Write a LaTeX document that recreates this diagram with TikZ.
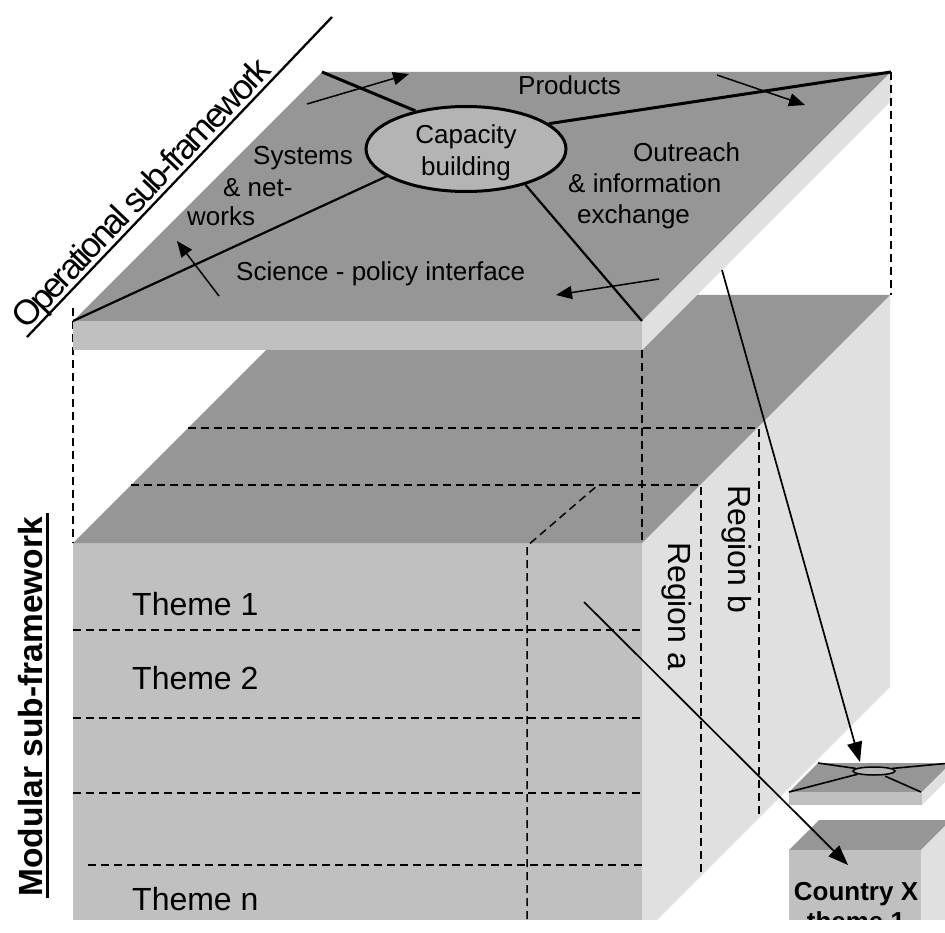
\documentclass[tikz,border=0pt]{standalone}
\usepackage{fontspec}
\setmainfont{Liberation Sans}
\usetikzlibrary{arrows.meta,shapes.geometric,calc}
\definecolor{topgray}{RGB}{150,150,150}
\definecolor{frontgray}{RGB}{192,192,192}
\definecolor{sidegray}{RGB}{224,224,224}
\definecolor{ellgray}{RGB}{180,180,180}
\tikzset{
  topface/.style={fill=topgray},
  frontface/.style={fill=frontgray},
  sideface/.style={fill=sidegray},
  cut/.style={line width=1.5pt, dash pattern=on 8pt off 5pt},
  platetext/.style={inner sep=0pt, anchor=base west, font=\fontsize{26}{30}\selectfont},
  bigtext/.style={inner sep=0pt, anchor=base west, font=\fontsize{32}{36}\selectfont},
  flowarrow/.style={line width=1.5pt, -{Triangle[length=16pt,width=13pt]}},
  longarrow/.style={line width=1.7pt, -{Triangle[length=20pt,width=15pt]}},
}
\begin{document}
\begin{tikzpicture}[x=1pt,y=-1pt]
\useasboundingbox (0,0) rectangle (945,933);
\begin{scope}
\clip (0,0) rectangle (945,919);

% ---------- modular block ----------
\fill[frontface] (73,543) rectangle (642,925);
\fill[sideface] (642,543) -- (890,295) -- (890,687) -- (656,921) -- (642,921) -- cycle;
\fill[topface] (73,543) -- (642,543) -- (890,295) -- (321,295) -- cycle;

% layer and region cuts
\draw[cut] (188,428) -- (759,428) -- (759,818);
\draw[cut] (131,485) -- (701,485) -- (701,876);
\draw[cut] (527,919) -- (527,546) -- (598,485);
\draw[cut] (73,630) -- (642,630);
\draw[cut] (73,718) -- (642,718);
\draw[cut] (73,793) -- (642,793);
\draw[cut] (88,865) -- (642,865);
\draw[cut] (73,308) -- (73,543);
\draw[cut] (642,350) -- (642,543);

\node[bigtext] (th1) at (132,615) {Theme 1};
\node[bigtext] (th2) at (132,689) {Theme 2};
\node[bigtext] (thn) at (132,910) {Theme n};
\node[bigtext, rotate=-90] (rga) at (668,542) {Region a};
\node[bigtext, rotate=-90] (rgb) at (728,485) {Region b};

% ---------- operational plate ----------
\coordinate (pBL) at (73,321);
\coordinate (pBR) at (642,321);
\coordinate (pTR) at (891,72);
\coordinate (pTL) at (322,72);
\fill[topface] (pBL) -- (pBR) -- (pTR) -- (pTL) -- cycle;
\fill[frontface] (73,321) rectangle (642,350);
\fill[sideface] (pBR) -- (pTR) -- (891,101) -- (642,350) -- cycle;
\draw[cut] (891,72) -- (891,295);

\node[ellipse, draw, line width=3pt, fill=ellgray, minimum width=200pt,
      minimum height=85pt, inner sep=0pt] (ell) at (466,149) {};
\node[inner sep=0pt, align=center, font=\fontsize{26}{32}\selectfont] (capt) at (466,153) {Capacity\\building};
\draw[line width=3pt] (pTL) -- (ell.143);
\draw[line width=3pt] (ell.17) -- (pTR);
\draw[line width=2.2pt] (ell.199) -- (pBL);
\draw[line width=2.2pt] (ell.329) -- (pBR);

\node[platetext] (prod) at (518,95) {Products};
\node[platetext] (sys1) at (253,165) {Systems};
\node[platetext] (sys2) at (223,197) {\& net-};
\node[platetext] (sys3) at (187,226) {works};
\node[platetext] (out1) at (633,162) {Outreach};
\node[platetext] (out2) at (568,193) {\& information};
\node[platetext] (out3) at (577,224) {exchange};
\node[platetext] (sci) at (236,281) {Science - policy interface};

\coordinate (a1s) at (307,104); \coordinate (a1e) at (409,74);
\coordinate (a2s) at (717,75);  \coordinate (a2e) at (805,105);
\coordinate (a3s) at (659,279); \coordinate (a3e) at (556,295);
\coordinate (a4s) at (219,296); \coordinate (a4e) at (177,241);
\draw[flowarrow] (a1s) -- (a1e);
\draw[flowarrow] (a2s) -- (a2e);
\draw[flowarrow] (a3s) -- (a3e);
\draw[flowarrow] (a4s) -- (a4e);

% ---------- small operational plate ----------
\coordinate (sBL) at (789,792);
\coordinate (sBR) at (922,792);
\coordinate (sTR) at (951,763);
\coordinate (sTL) at (818,763);
\fill[topface] (sBL) -- (sBR) -- (sTR) -- (sTL) -- cycle;
\fill[frontface] (789,792) rectangle (922,805);
\fill[sideface] (sBR) -- (sTR) -- (951,776) -- (922,805) -- cycle;
\node[ellipse, draw, line width=1.5pt, fill=ellgray, minimum width=42pt,
      minimum height=8pt, inner sep=0pt] (sel) at (874,771) {};
\draw[line width=1.6pt] (sTL) -- (sel.172);
\draw[line width=1.6pt] (sel.8) -- (sTR);
\draw[line width=1.6pt] (sel.191) -- (sBL);
\draw[line width=1.6pt, shorten <=2pt] (sel.335) -- (921,792);

% ---------- country box ----------
\fill[topface] (789,850) -- (921,850) -- (951,820) -- (819,820) -- cycle;
\fill[frontface] (789,850) rectangle (921,930);
\fill[sideface] (921,850) -- (951,820) -- (951,930) -- (921,930) -- cycle;
\node[inner sep=0pt, anchor=base, font=\bfseries\fontsize{26}{30}\selectfont] (cty1) at (856,900) {Country X};
\node[inner sep=0pt, anchor=base, font=\bfseries\fontsize{26}{30}\selectfont] (cty2) at (856,930) {theme 1};

% ---------- links to the country level ----------
\coordinate (l1s) at (722,270); \coordinate (l1e) at (860,762);
\coordinate (l2s) at (584,602); \coordinate (l2e) at (848,865);
\draw[longarrow] (l1s) -- (l1e);
\draw[longarrow] (l2s) -- (l2e);

% ---------- side titles ----------
\node[inner sep=0pt, anchor=base west, rotate=46.4,
      font=\fontsize{35}{38}\selectfont\addfontfeatures{LetterSpace=-8}] (opl) at (26,331) {Operational sub-framework};
\coordinate (ou1) at (27,337); \coordinate (ou2) at (332,17);
\draw[line width=2.3pt] (ou1) -- (ou2);

\node[inner sep=0pt, anchor=base west, rotate=90,
      font=\bfseries\fontsize{33.5}{36}\selectfont] (mod) at (42,897) {Modular sub-framework};
\coordinate (mu1) at (47,898); \coordinate (mu2) at (47,513);
\draw[line width=3pt] (mu1) -- (mu2);
\end{scope}
\end{tikzpicture}
\end{document}
